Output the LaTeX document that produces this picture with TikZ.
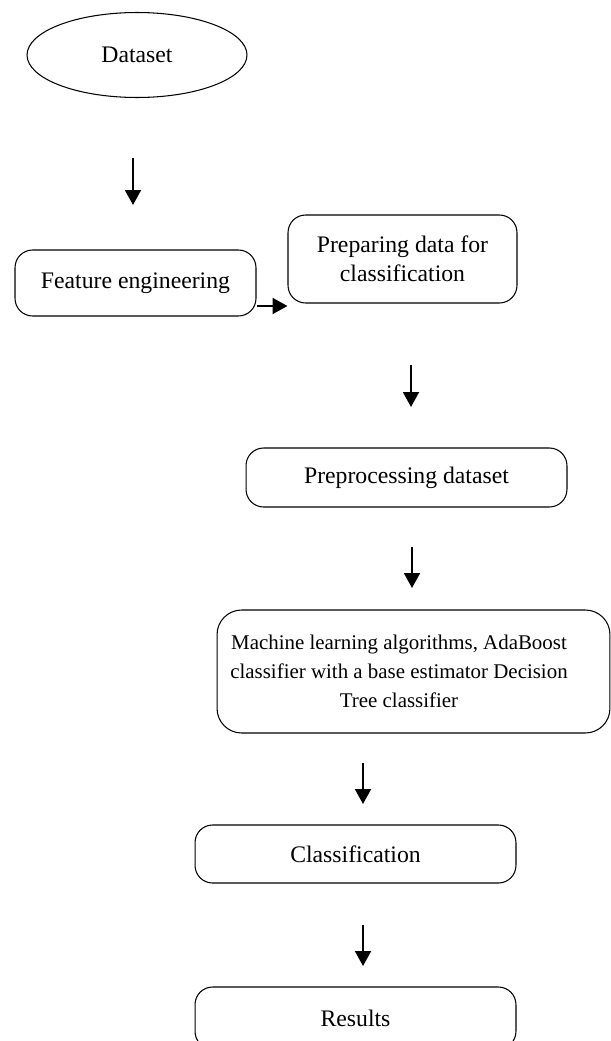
\documentclass[tikz,border=0pt]{standalone}
\usepackage{fontspec}
\setmainfont{Liberation Serif}
\usetikzlibrary{arrows.meta,shapes.geometric}

\begin{document}
\begin{tikzpicture}[x=0.02cm,y=-0.02cm,
    box/.style={draw,line width=0.6pt,rounded corners=10pt,align=center,
        font=\fontsize{13.5}{16.4}\selectfont,inner sep=0pt},
    flow/.style={line width=1.1pt,-{Triangle[length=3mm,width=3.2mm]}}]
    % Margenes de la figura
    \useasboundingbox (0,0) rectangle (611,1041);

    % Nodos
    \node[draw,ellipse,line width=0.6pt,minimum width=4.4cm,minimum height=1.7cm,
        inner sep=0pt,font=\fontsize{13.5}{16.4}\selectfont] (data) at (137,55) {Dataset};
    \node[box,minimum width=4.82cm,minimum height=1.32cm] (feat) at (135.5,283) {Feature engineering};
    \node[box,minimum width=4.58cm,minimum height=1.76cm] (prep) at (402.5,259) {Preparing data for\\classification};
    \node[box,minimum width=6.42cm,minimum height=1.18cm] (preproc) at (406.5,477.5) {Preprocessing dataset};
    \node[box,rounded corners=14pt,minimum width=7.86cm,minimum height=2.46cm] (ml) at (413.5,671.5) {};
    \node[align=center,inner sep=0pt,font=\fontsize{11.9}{16.5}\selectfont] (mltext) at (399,671.5)
        {Machine learning algorithms, AdaBoost\\classifier with a base estimator Decision\\Tree classifier};
    \node[box,minimum width=6.42cm,minimum height=1.16cm] (cls) at (355.5,854) {Classification};
    \node[box,minimum width=6.42cm,minimum height=1.24cm] (res) at (355.5,1018) {Results};

    % Flechas sueltas
    \coordinate (a1s) at (133,158);  \coordinate (a1e) at (133,205);
    \coordinate (hy) at (0,306);
    \coordinate (a2s) at (411,365);  \coordinate (a2e) at (411,407);
    \coordinate (a3s) at (412,547);  \coordinate (a3e) at (412,588);
    \coordinate (a4s) at (363,763);  \coordinate (a4e) at (363,804);
    \coordinate (a5s) at (363,925);  \coordinate (a5e) at (363,966);

    \draw[flow] (a1s) -- (a1e);
    \draw[flow] (feat.east |- hy) -- (prep.west |- hy);
    \draw[flow] (a2s) -- (a2e);
    \draw[flow] (a3s) -- (a3e);
    \draw[flow] (a4s) -- (a4e);
    \draw[flow] (a5s) -- (a5e);

\end{tikzpicture}
\end{document}
